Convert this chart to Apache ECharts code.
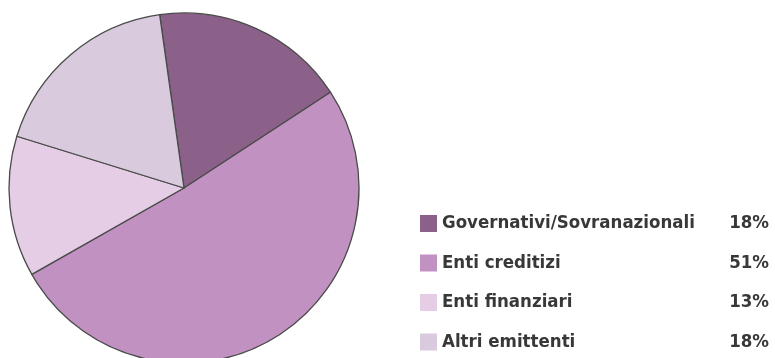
<!DOCTYPE html>
<html>
<head>
<meta charset="utf-8">
<script src="https://cdn.jsdelivr.net/npm/echarts@6/dist/echarts.min.js"></script>
<style>
  html, body { margin: 0; padding: 0; background: #ffffff; }
  #chart { width: 775px; height: 358px; }
</style>
</head>
<body>
<div id="chart"></div>
<script>
// Portfolio breakdown by issuer type
const categories = ['Governativi/Sovranazionali', 'Enti creditizi', 'Enti finanziari', 'Altri emittenti'];
const shares = [18, 51, 13, 18];
const sliceColors = ['#8c6189', '#c192c1', '#e6cde6', '#d9cbdd'];

const shareByName = {};
categories.forEach((c, i) => { shareByName[c] = shares[i]; });

const FONT = '"DejaVu Sans Condensed", "Liberation Sans Narrow", sans-serif';
const textBase = { fontFamily: FONT, fontWeight: 'bold', fontSize: 18.5, color: '#383838', lineHeight: 17 };

const chart = echarts.init(document.getElementById('chart'), null, { renderer: 'canvas' });

chart.setOption({
  animation: false,
  color: sliceColors,
  legend: {
    orient: 'vertical',
    left: 420,
    top: 214,
    padding: 0,
    itemWidth: 17,
    itemHeight: 17,
    itemGap: 20.5,
    icon: 'rect',
    selectedMode: false,
    data: categories,
    itemStyle: { borderWidth: 0 },
    formatter: name => '{n|' + name + '}{p|' + shareByName[name] + '%}',
    textStyle: Object.assign({}, textBase, {
      rich: {
        n: Object.assign({}, textBase, { width: 286 }),
        p: Object.assign({}, textBase, { width: 41, align: 'right' })
      }
    })
  },
  series: [{
    type: 'pie',
    center: [184, 188],
    radius: 175,
    startAngle: 98,
    clockwise: true,
    label: { show: false },
    labelLine: { show: false },
    emphasis: { disabled: true },
    itemStyle: {
      borderColor: '#4a4a4a',
      borderWidth: 1.3
    },
    data: categories.map((c, i) => ({ name: c, value: shares[i] }))
  }]
});
</script>
</body>
</html>
